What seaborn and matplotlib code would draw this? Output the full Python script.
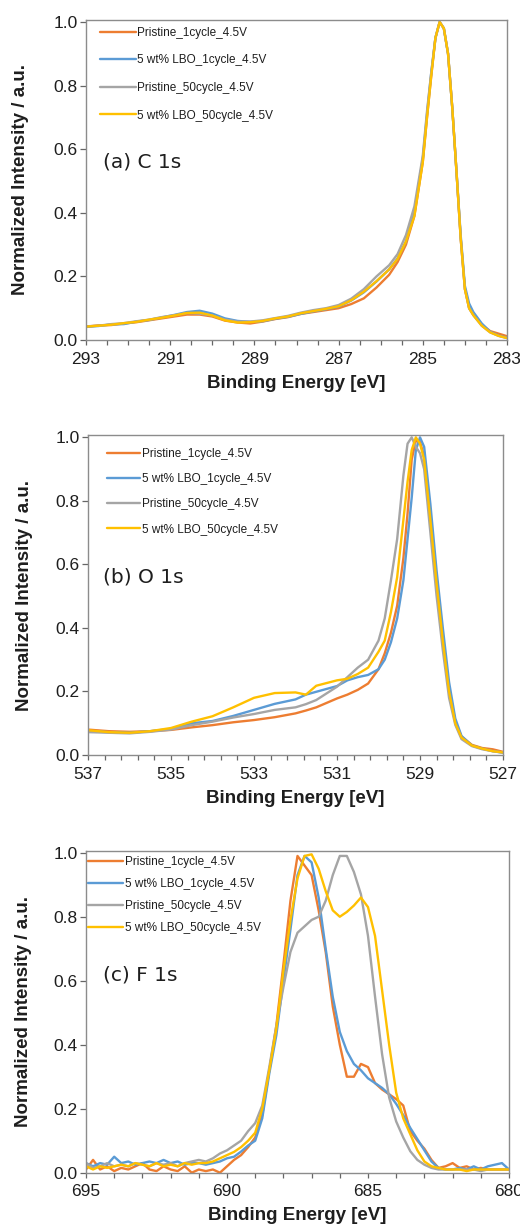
import matplotlib
matplotlib.use("Agg")
import numpy as np
import matplotlib.pyplot as plt
import seaborn as sns
from matplotlib.ticker import FixedLocator, FormatStrFormatter, MultipleLocator

sns.set_theme(style="white")
plt.rcParams['font.family'] = ['Liberation Sans', 'DejaVu Sans']

# ---------------- data ----------------
series_labels = ["Pristine_1cycle_4.5V", "5 wt% LBO_1cycle_4.5V",
                 "Pristine_50cycle_4.5V", "5 wt% LBO_50cycle_4.5V"]
series_colors = ["#ED7D31", "#5B9BD5", "#A5A5A5", "#FFC000"]

# (a) C 1s
c1s_energy = [293.0, 292.7, 292.4, 292.1, 291.8, 291.5, 291.2, 290.9, 290.6, 290.3,
              290.0, 289.7, 289.4, 289.1, 288.8, 288.5, 288.2, 287.9, 287.6, 287.3,
              287.0, 286.7, 286.4, 286.1, 285.8, 285.6, 285.4, 285.2, 285.0, 284.9,
              284.8, 284.7, 284.6, 284.5, 284.4, 284.3, 284.2, 284.1, 284.0, 283.9,
              283.8, 283.6, 283.4, 283.2, 283.0]
c1s_pristine_1 = [0.042, 0.046, 0.047, 0.052, 0.056, 0.062, 0.068, 0.074, 0.080, 0.080,
                  0.074, 0.061, 0.055, 0.052, 0.058, 0.066, 0.072, 0.082, 0.088, 0.094,
                  0.100, 0.113, 0.131, 0.165, 0.205, 0.245, 0.30, 0.39, 0.56, 0.70,
                  0.83, 0.95, 1.0, 0.98, 0.90, 0.73, 0.53, 0.32, 0.16, 0.10,
                  0.080, 0.048, 0.028, 0.020, 0.012]
c1s_lbo_1 = [0.041, 0.044, 0.049, 0.050, 0.058, 0.063, 0.071, 0.079, 0.088, 0.092,
             0.083, 0.068, 0.060, 0.057, 0.059, 0.067, 0.073, 0.082, 0.090, 0.097,
             0.105, 0.124, 0.150, 0.184, 0.222, 0.256, 0.31, 0.40, 0.57, 0.71,
             0.84, 0.95, 1.0, 0.98, 0.90, 0.73, 0.53, 0.33, 0.17, 0.115,
             0.088, 0.052, 0.026, 0.014, 0.007]
c1s_pristine_50 = [0.043, 0.045, 0.050, 0.053, 0.059, 0.064, 0.072, 0.078, 0.085, 0.083,
                   0.077, 0.064, 0.058, 0.058, 0.062, 0.069, 0.076, 0.086, 0.094, 0.100,
                   0.110, 0.130, 0.160, 0.200, 0.235, 0.270, 0.33, 0.42, 0.58, 0.72,
                   0.84, 0.95, 1.0, 0.98, 0.90, 0.73, 0.53, 0.32, 0.16, 0.10,
                   0.078, 0.045, 0.024, 0.013, 0.006]
c1s_lbo_50 = [0.042, 0.045, 0.048, 0.053, 0.057, 0.064, 0.070, 0.077, 0.085, 0.086,
              0.077, 0.062, 0.055, 0.056, 0.060, 0.068, 0.074, 0.084, 0.091, 0.098,
              0.106, 0.125, 0.152, 0.185, 0.222, 0.255, 0.31, 0.39, 0.56, 0.70,
              0.83, 0.95, 1.0, 0.98, 0.90, 0.73, 0.53, 0.32, 0.16, 0.10,
              0.078, 0.045, 0.024, 0.013, 0.006]

# (b) O 1s
o1s_energy = [537.0, 536.5, 536.0, 535.5, 535.0, 534.5, 534.0, 533.5, 533.0, 532.5,
              532.0, 531.75, 531.5, 531.0, 530.75, 530.5, 530.25, 530.0, 529.85, 529.7,
              529.55, 529.4, 529.3, 529.2, 529.1, 529.0, 528.9, 528.75, 528.6, 528.45,
              528.3, 528.15, 528.0, 527.75, 527.5, 527.25, 527.0]
o1s_pristine_1 = [0.080, 0.075, 0.073, 0.075, 0.079, 0.087, 0.094, 0.103, 0.110, 0.119,
                  0.131, 0.140, 0.150, 0.178, 0.190, 0.205, 0.225, 0.270, 0.320, 0.385,
                  0.470, 0.620, 0.760, 0.930, 0.990, 0.985, 0.940, 0.750, 0.550, 0.370,
                  0.210, 0.105, 0.058, 0.032, 0.022, 0.018, 0.010]
o1s_lbo_1 = [0.075, 0.072, 0.070, 0.075, 0.082, 0.100, 0.107, 0.123, 0.142, 0.161,
             0.175, 0.190, 0.199, 0.217, 0.235, 0.245, 0.252, 0.270, 0.300, 0.355,
             0.430, 0.550, 0.680, 0.810, 0.960, 1.000, 0.970, 0.790, 0.580, 0.400,
             0.230, 0.115, 0.060, 0.030, 0.020, 0.012, 0.007]
o1s_pristine_50 = [0.072, 0.070, 0.068, 0.073, 0.080, 0.094, 0.105, 0.118, 0.129, 0.142,
                   0.150, 0.160, 0.173, 0.215, 0.245, 0.275, 0.300, 0.360, 0.430, 0.550,
                   0.680, 0.880, 0.980, 1.000, 0.970, 0.950, 0.900, 0.700, 0.500, 0.330,
                   0.180, 0.095, 0.050, 0.028, 0.018, 0.012, 0.008]
o1s_lbo_50 = [0.078, 0.072, 0.070, 0.075, 0.085, 0.105, 0.122, 0.150, 0.180, 0.195,
              0.197, 0.190, 0.218, 0.235, 0.240, 0.255, 0.275, 0.325, 0.360, 0.450,
              0.560, 0.740, 0.860, 0.960, 1.000, 0.980, 0.930, 0.740, 0.540, 0.360,
              0.200, 0.100, 0.055, 0.030, 0.020, 0.012, 0.008]

# (c) F 1s
f1s_energy = [695.0, 694.75, 694.5, 694.25, 694.0, 693.75, 693.5, 693.25, 693.0, 692.75,
              692.5, 692.25, 692.0, 691.75, 691.5, 691.25, 691.0, 690.75, 690.5, 690.25,
              690.0, 689.75, 689.5, 689.25, 689.0, 688.75, 688.5, 688.25, 688.0, 687.75,
              687.5, 687.25, 687.0, 686.75, 686.5, 686.25, 686.0, 685.75, 685.5, 685.25,
              685.0, 684.75, 684.5, 684.25, 684.0, 683.75, 683.5, 683.25, 683.0, 682.75,
              682.5, 682.25, 682.0, 681.75, 681.5, 681.25, 681.0, 680.75, 680.5, 680.25,
              680.0]
f1s_pristine_1 = [0.010, 0.040, 0.010, 0.020, 0.005, 0.015, 0.010, 0.020, 0.030, 0.010,
                  0.005, 0.020, 0.010, 0.005, 0.020, 0.000, 0.010, 0.005, 0.010, 0.000,
                  0.020, 0.040, 0.055, 0.080, 0.110, 0.180, 0.320, 0.460, 0.650, 0.850,
                  0.990, 0.960, 0.930, 0.820, 0.690, 0.520, 0.400, 0.300, 0.300, 0.340,
                  0.330, 0.280, 0.260, 0.245, 0.230, 0.210, 0.130, 0.100, 0.075, 0.040,
                  0.015, 0.020, 0.030, 0.015, 0.020, 0.010, 0.015, 0.010, 0.010, 0.010,
                  0.010]
f1s_lbo_1 = [0.030, 0.020, 0.030, 0.025, 0.050, 0.030, 0.035, 0.025, 0.030, 0.035,
             0.030, 0.040, 0.030, 0.035, 0.025, 0.030, 0.030, 0.025, 0.030, 0.035,
             0.045, 0.050, 0.066, 0.085, 0.100, 0.170, 0.310, 0.430, 0.600, 0.760,
             0.930, 0.990, 0.970, 0.860, 0.700, 0.550, 0.440, 0.380, 0.340, 0.320,
             0.295, 0.280, 0.265, 0.245, 0.215, 0.180, 0.140, 0.105, 0.070, 0.035,
             0.015, 0.010, 0.010, 0.015, 0.010, 0.020, 0.010, 0.020, 0.025, 0.030,
             0.010]
f1s_pristine_50 = [0.030, 0.015, 0.020, 0.030, 0.020, 0.025, 0.020, 0.030, 0.025, 0.020,
                   0.030, 0.025, 0.030, 0.020, 0.030, 0.035, 0.040, 0.035, 0.045, 0.060,
                   0.070, 0.085, 0.100, 0.130, 0.155, 0.210, 0.330, 0.460, 0.580, 0.690,
                   0.750, 0.770, 0.790, 0.800, 0.850, 0.930, 0.990, 0.990, 0.940, 0.870,
                   0.740, 0.550, 0.370, 0.235, 0.160, 0.110, 0.067, 0.040, 0.025, 0.015,
                   0.010, 0.010, 0.010, 0.010, 0.010, 0.010, 0.005, 0.010, 0.010, 0.010,
                   0.010]
f1s_lbo_50 = [0.020, 0.010, 0.020, 0.015, 0.020, 0.025, 0.020, 0.030, 0.025, 0.020,
              0.030, 0.020, 0.025, 0.020, 0.030, 0.025, 0.030, 0.030, 0.035, 0.045,
              0.055, 0.065, 0.080, 0.100, 0.125, 0.200, 0.320, 0.450, 0.630, 0.790,
              0.920, 0.990, 0.995, 0.950, 0.880, 0.820, 0.800, 0.815, 0.835, 0.860,
              0.830, 0.740, 0.570, 0.400, 0.250, 0.170, 0.120, 0.070, 0.035, 0.020,
              0.015, 0.010, 0.010, 0.010, 0.005, 0.010, 0.010, 0.010, 0.010, 0.010,
              0.010]

# tick positions
c1s_major_ticks = [293, 291, 289, 287, 285, 283]
o1s_major_ticks = [537, 535, 533, 531, 529, 527]
f1s_major_ticks = [695, 690, 685, 680]

panels = [
    dict(energy=c1s_energy, curves=[c1s_pristine_1, c1s_lbo_1, c1s_pristine_50, c1s_lbo_50],
         xlim=(293, 283), major=c1s_major_ticks, minor=0.5, tag="(a) C 1s",
         rect=(86 / 520, 1 - 340 / 1224, 421 / 520, 320.2 / 1224),
         leg_anchor=(0.033, 0.978), leg_hl=3.05, leg_ls=1.32,
         tag_xy=(0.040, 0.556), ylab_x=-0.135),
    dict(energy=o1s_energy, curves=[o1s_pristine_1, o1s_lbo_1, o1s_pristine_50, o1s_lbo_50],
         xlim=(537, 527), major=o1s_major_ticks, minor=0.4, tag="(b) O 1s",
         rect=(88 / 520, 1 - 755 / 1224, 415 / 520, 319.9 / 1224),
         leg_anchor=(0.046, 0.959), leg_hl=2.8, leg_ls=1.11,
         tag_xy=(0.036, 0.556), ylab_x=-0.133),
    dict(energy=f1s_energy, curves=[f1s_pristine_1, f1s_lbo_1, f1s_pristine_50, f1s_lbo_50],
         xlim=(695, 680), major=f1s_major_ticks, minor=1.0, tag="(c) F 1s",
         rect=(86 / 520, 1 - 1172.7 / 1224, 423 / 520, 322.2 / 1224),
         leg_anchor=(0.005, 0.984), leg_hl=2.97, leg_ls=0.86,
         tag_xy=(0.040, 0.614), ylab_x=-0.128),
]

spine_col = "#8C8C8C"
text_col = "#1E1E1E"

fig = plt.figure(figsize=(5.2, 12.24), dpi=100)
for p in panels:
    ax = fig.add_axes(p["rect"])
    for vals, lab, col in zip(p["curves"], series_labels, series_colors):
        sns.lineplot(x=p["energy"], y=vals, color=col, label=lab, ax=ax,
                     linewidth=1.7, estimator=None, sort=True)
    lo, hi = min(p["xlim"]), max(p["xlim"])
    n_minor = int(round((hi - lo) / p["minor"]))
    minor_ticks = [lo + k * p["minor"] for k in range(n_minor + 1)]
    ax.set_xlim(*p["xlim"])
    ax.set_ylim(0, 1.007)
    ax.xaxis.set_major_locator(FixedLocator(p["major"]))
    ax.xaxis.set_minor_locator(FixedLocator(minor_ticks))
    ax.xaxis.set_major_formatter(FormatStrFormatter("%d"))
    ax.yaxis.set_major_locator(MultipleLocator(0.2))
    ax.yaxis.set_major_formatter(FormatStrFormatter("%.1f"))
    for s in ax.spines.values():
        s.set_color(spine_col)
        s.set_linewidth(1.0)
    ax.tick_params(axis="x", which="both", direction="out", length=3.8, width=0.9,
                   color="#666666", bottom=True, labelsize=12.5, labelcolor=text_col, pad=4.5)
    ax.tick_params(axis="y", which="major", direction="out", length=4.3, width=0.9,
                   color="#666666", left=True, labelsize=12.5, labelcolor=text_col, pad=1.5)
    ax.set_xlabel("Binding Energy [eV]", fontsize=13.5, fontweight="bold", color=text_col)
    ax.set_ylabel("Normalized Intensity / a.u.", fontsize=13.5, fontweight="bold", color=text_col)
    ax.xaxis.set_label_coords(0.499, -0.108)
    ax.yaxis.set_label_coords(p["ylab_x"], 0.5)
    ax.legend(loc="upper left", bbox_to_anchor=p["leg_anchor"], frameon=False,
              fontsize=8.5, handlelength=p["leg_hl"], handletextpad=0.12,
              labelspacing=p["leg_ls"], borderpad=0, borderaxespad=0,
              labelcolor=text_col)
    ax.text(p["tag_xy"][0], p["tag_xy"][1], p["tag"], transform=ax.transAxes,
            fontsize=14.5, family="DejaVu Sans", color=text_col, va="center", ha="left")
    ax.set_facecolor("white")

fig.savefig("out.png", dpi=100, facecolor="white")
